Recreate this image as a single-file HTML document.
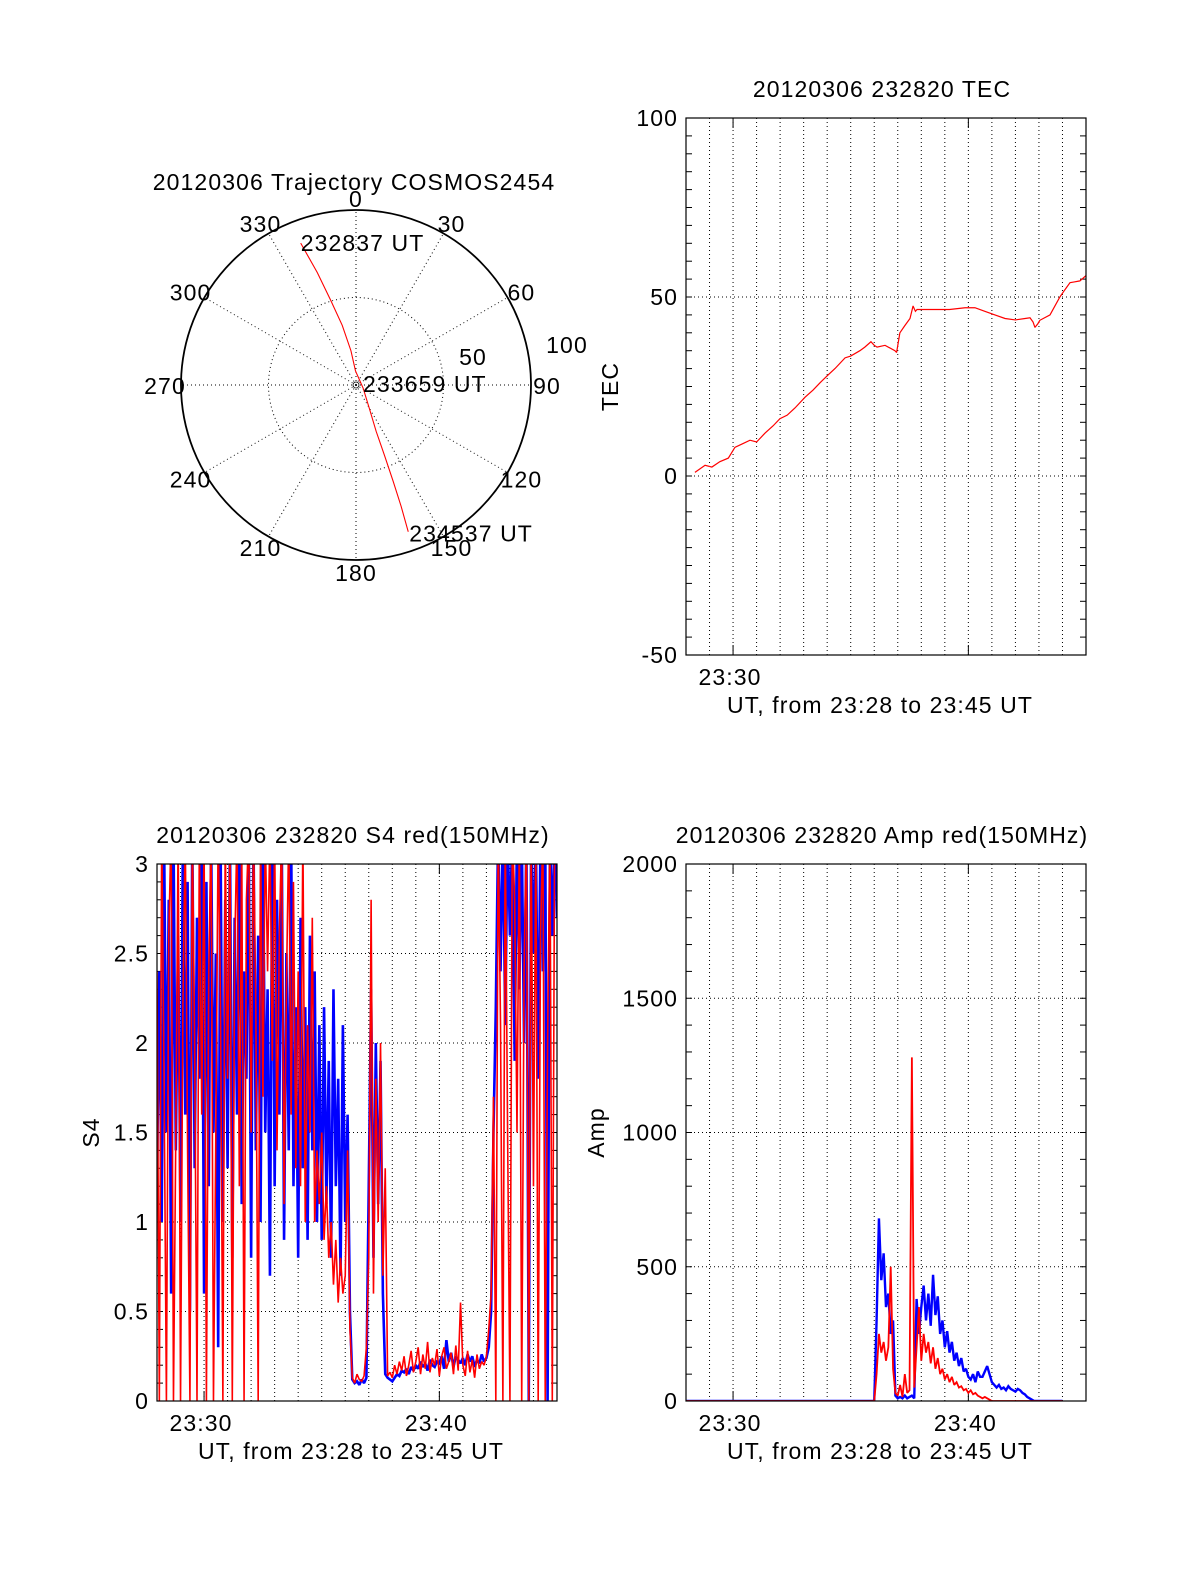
<!DOCTYPE html>
<html><head><meta charset="utf-8"><title>COSMOS2454 scintillation</title>
<style>
html,body{margin:0;padding:0;background:#fff;}
svg{display:block;font-family:"Liberation Sans",Arial,sans-serif;}
text{font-size:23px;fill:#000;letter-spacing:1.1px;}
</style></head>
<body>
<svg id="fig" width="1200" height="1575" viewBox="0 0 1200 1575" xmlns="http://www.w3.org/2000/svg">
<rect width="1200" height="1575" fill="#fff"/>
</svg>
<script>
// ---------- data (time in minutes since 23:28) ----------
const tecTimes = [0.38,0.81,1.1,1.44,1.8,2.08,2.4,2.72,3.0,3.36,3.7,3.99,4.3,4.63,5.06,5.4,5.69,6.0,6.33,6.76,7.0,7.39,7.6,7.86,8.0,8.12,8.46,8.88,8.95,9.09,9.3,9.52,9.65,9.75,9.82,10.58,11.2,11.86,12.28,12.7,13.13,13.56,14.0,14.41,14.62,14.75,14.83,14.95,15.04,15.47,15.89,16.1,16.32,16.5,16.74,17.0];
const tecValues = [1,3,2.5,4,5,8,9,10,9.5,12,14,16,17,19,22,24,26,28,30,33,33.5,35,36,37.5,36.5,36,36.5,35,34.5,40,42,44,47.5,46,46.5,46.5,46.5,47,47,46,45,44,43.6,44,44.2,43,41.5,42.5,43.5,45,50,52,54,54.2,54.5,56];

const s4BlueVals = [
1.2,2.4,1.0,3.2,1.5,2.8,0.6,3.2,1.4,2.6,
1.0,3.2,1.6,2.9,0.5,3.2,1.3,2.7,1.8,3.2,
0.6,2.9,1.2,3.2,1.5,2.5,0.3,3.2,1.0,2.8,
1.3,3.2,0.8,2.7,1.6,3.2,1.1,2.4,1.8,3.2,
0.8,3.2,1.4,2.6,1.0,3.2,1.5,2.3,0.7,3.2,
1.2,2.8,1.6,3.2,0.9,2.5,1.4,3.2,1.2,2.2,
0.8,2.7,1.3,2.2,0.9,2.6,1.4,2.4,1.0,2.1,
0.9,2.2,1.1,1.9,0.8,2.3,1.2,1.8,0.7,2.1,
1.0,1.6,0.5,0.12,0.10,0.11,0.09,0.12,0.10,0.13,
1.2,2.3,0.8,2.0,1.1,1.9,0.6,0.15,0.13,0.12,
0.11,0.13,0.15,0.14,0.17,0.16,0.18,0.15,0.19,0.17,
0.20,0.18,0.22,0.19,0.21,0.17,0.23,0.20,0.19,0.22,
0.21,0.25,0.18,0.34,0.22,0.27,0.19,0.25,0.23,0.21,
0.24,0.20,0.26,0.22,0.25,0.19,0.23,0.21,0.26,0.22,
0.24,0.30,0.5,1.5,2.2,3.2,2.4,3.2,2.1,3.2,
2.6,3.2,1.9,3.2,2.3,3.2,2.0,3.2,0,3.2,
2.5,3.2,1.8,3.2,2.4,3.2,0,3.2,2.6,3.2,
2.7];
const s4RedVals = [
2.4,0,3.2,1.8,0,2.6,3.2,0,1.5,3.2,
0,2.2,3.2,1.4,0,3.2,2.0,0,3.2,1.6,
3.2,0,2.4,3.2,0,1.5,3.2,2.2,0,3.2,
1.8,3.2,0,2.5,3.2,1.2,3.2,0,2.8,3.2,
1.5,3.2,2.2,0,3.2,1.7,3.2,2.4,3.2,1.9,
3.2,1.4,2.6,3.2,1.1,2.3,3.2,1.6,2.9,1.3,
2.4,1.2,3.2,1.0,2.1,1.5,2.7,1.0,1.4,1.1,
1.5,0.9,1.2,0.8,1.0,0.65,0.9,0.55,0.8,0.6,
0.7,1.4,0.4,0.13,0.10,0.15,0.12,0.11,0.14,0.3,
0.8,2.8,0.6,1.8,1.0,2.0,0.7,1.3,0.14,0.16,
0.13,0.20,0.15,0.22,0.17,0.25,0.14,0.20,0.28,0.16,
0.22,0.30,0.15,0.26,0.18,0.33,0.16,0.24,0.20,0.29,
0.14,0.25,0.30,0.18,0.22,0.27,0.15,0.31,0.17,0.55,
0.20,0.14,0.28,0.16,0.23,0.13,0.26,0.18,0.22,0.20,
0.25,0.40,0.6,1.7,0,3.2,2.1,0,3.2,1.5,
0,3.2,2.8,1.5,3.2,0,2.4,3.2,0,3.2,
1.2,3.2,0,2.6,3.2,0,2.0,3.2,0,3.2,
3.2];

const ampBlueVals = [
0,0,0,0,0,0,0,0,0,0, 0,0,0,0,0,0,0,0,0,0, 0,0,0,0,0,0,0,0,0,0, 0,0,0,0,0,0,0,0,0,0,
0,0,0,0,0,0,0,0,0,0, 0,0,0,0,0,0,0,0,0,0, 0,0,0,0,0,0,0,0,0,0, 0,0,0,0,0,0,0,0,0,0,
0,300,680,450,550,350,400,250,300,20,
10,15,10,20,10,15,20,10,380,250,
350,430,300,400,280,470,320,390,250,300,
200,260,180,220,150,180,130,160,110,120,
90,80,100,70,110,90,90,110,130,100,
70,60,50,60,45,50,40,55,45,40,
35,45,40,30,25,15,10,5,0,0,
0,0,0,0,0,0,0,0,0,0, 0];
const ampRedVals = [
0,0,0,0,0,0,0,0,0,0, 0,0,0,0,0,0,0,0,0,0, 0,0,0,0,0,0,0,0,0,0, 0,0,0,0,0,0,0,0,0,0,
0,0,0,0,0,0,0,0,0,0, 0,0,0,0,0,0,0,0,0,0, 0,0,0,0,0,0,0,0,0,0, 0,0,0,0,0,0,0,0,0,0,
0,100,250,180,220,150,200,500,120,30,
20,60,15,100,30,40,1280,50,200,350,
150,250,180,220,140,200,120,160,100,120,
80,100,70,90,60,70,50,55,40,45,
30,40,25,30,20,15,10,15,10,5,
0,0,0,0,0,0,0,0,0,0, 0,0,0,0,0,0,0,0,0,0,
0,0,0,0,0,0,0,0,0,0, 0];
const sampleStepMin = 0.1;

// polar trajectory: azimuth (deg), zenith distance (0..100)
const trajAz = [338.7,341,343.4,347,351.6,358,113,150,156.5,158,158.9,159.6,160.4];
const trajZen = [87,68,50.4,35,19.8,8,4.4,15,28.9,44,59,74,89];
const polarAzLabels = ["0","30","60","90","120","150","180","210","240","270","300","330"];
const tecTicks = [-50,0,50,100];
const s4Ticks = ["0","0.5","1","1.5","2","2.5","3"];
const ampTicks = [0,500,1000,1500,2000];
const timeTickLabels = ["23:30","23:40"];

// ---------- helpers ----------
const NS = "http://www.w3.org/2000/svg";
const svg = document.getElementById("fig");
function mk(tag, attrs, parent) {
  const e = document.createElementNS(NS, tag);
  for (const k in attrs) e.setAttribute(k, attrs[k]);
  (parent || svg).appendChild(e);
  return e;
}
function txt(x, y, s, anchor, parent) {
  const t = mk("text", {x: x, y: y, "text-anchor": anchor || "middle"}, parent);
  t.textContent = s;
  return t;
}

function makePanel(cfg) {
  const g = mk("g", {});
  
  
  const L = cfg.x0, R = cfg.x1, T = cfg.y0, B = cfg.y1;
  const xs = m => L + (m / 17) * (R - L);
  const ys = v => B - (v - cfg.ymin) / (cfg.ymax - cfg.ymin) * (B - T);
  const clipId = cfg.name + "-clip";
  const cp = mk("clipPath", {id: clipId}, g);
  mk("rect", {x: L, y: T, width: R - L, height: B - T}, cp);
  for (let m = 1; m < 17; m++) {
    const l = mk("line", {x1: xs(m), x2: xs(m), y1: T, y2: B, stroke: "#000", "stroke-width": 1, "stroke-dasharray": "1,3"}, g);
    
    
  }
  cfg.majors.forEach(v => {
    if (v > cfg.ymin && v < cfg.ymax) {
      const l = mk("line", {x1: L, x2: R, y1: ys(v), y2: ys(v), stroke: "#000", "stroke-width": 1, "stroke-dasharray": "1,3"}, g);
      
      
    }
  });
  for (let v = cfg.ymin; v <= cfg.ymax + 1e-9; v += cfg.minor) {
    mk("line", {x1: L, x2: L + 6, y1: ys(v), y2: ys(v), stroke: "#000"}, g);
    mk("line", {x1: R - 6, x2: R, y1: ys(v), y2: ys(v), stroke: "#000"}, g);
  }
  [2, 12].forEach(m => {
    mk("line", {x1: xs(m), x2: xs(m), y1: B - 10, y2: B, stroke: "#000"}, g);
    mk("line", {x1: xs(m), x2: xs(m), y1: T, y2: T + 10, stroke: "#000"}, g);
  });
  const sg = mk("g", {"clip-path": "url(#" + clipId + ")"}, g);
  cfg.series.forEach(s => {
    const pts = s.vals.map((v, i) => xs(s.times ? s.times[i] : i * sampleStepMin).toFixed(2) + "," + ys(v).toFixed(2)).join(" ");
    const p = mk("polyline", {points: pts, fill: "none", stroke: s.color, "stroke-width": s.w || 1.2, "stroke-linejoin": "miter", "stroke-miterlimit": 2}, sg);
    
    
  });
  const f = mk("rect", {x: L, y: T, width: R - L, height: B - T, fill: "none", stroke: "#000", "stroke-width": 1.2}, g);
  
  
  cfg.majors.forEach((v, i) => {
    const t = txt(L - 8, ys(v) + 8, cfg.majorLabels[i], "end", g);
    
    
  });
  cfg.xLabels.forEach((s, i) => {
    const t = txt(xs(2 + 10 * i) - 3, B + 30, s, "middle", g);
    
    
  });
  const xt = txt((L + R) / 2 - 6, B + 58, "UT, from 23:28 to 23:45 UT", "middle", g);
  
  
  const tt = txt((L + R) / 2 - 4, T - 21, cfg.title, "middle", g);
  
  
  const yt = mk("text", {x: cfg.ytx, y: (T + B) / 2, "text-anchor": "middle", transform: "rotate(-90 " + cfg.ytx + " " + (T + B) / 2 + ")"}, g);
  yt.textContent = cfg.ytitle;
  
  
}

makePanel({name: "tec-panel", x0: 686, x1: 1086, y0: 118, y1: 655, ymin: -50, ymax: 100, minor: 5,
  majors: tecTicks, majorLabels: tecTicks.map(String), xLabels: [timeTickLabels[0]],
  title: "20120306 232820 TEC", ytitle: "TEC", ytx: 618,
  series: [{name: "tec-line", color: "#ff0000", vals: tecValues, times: tecTimes}]});

makePanel({name: "s4-panel", x0: 157, x1: 557, y0: 864, y1: 1401, ymin: 0, ymax: 3, minor: 0.1,
  majors: s4Ticks.map(Number), majorLabels: s4Ticks, xLabels: timeTickLabels,
  title: "20120306 232820 S4 red(150MHz)", ytitle: "S4", ytx: 99,
  series: [{name: "s4-blue-line", color: "#0000ff", vals: s4BlueVals, w: 2.6},
           {name: "s4-red-line", color: "#ff0000", vals: s4RedVals, w: 1.6}]});

makePanel({name: "amp-panel", x0: 686, x1: 1086, y0: 864, y1: 1401, ymin: 0, ymax: 2000, minor: 100,
  majors: ampTicks, majorLabels: ampTicks.map(String), xLabels: timeTickLabels,
  title: "20120306 232820 Amp red(150MHz)", ytitle: "Amp", ytx: 604,
  series: [{name: "amp-blue-line", color: "#0000ff", vals: ampBlueVals, w: 2.4},
           {name: "amp-red-line", color: "#ff0000", vals: ampRedVals, w: 1.8}]});

(function () {
  const cx = 356, cy = 385, R = 175;
  const g = mk("g", {});
  
  
  const rs = z => z / 100 * R;
  const pt = (az, z) => [cx + rs(z) * Math.sin(az * Math.PI / 180), cy - rs(z) * Math.cos(az * Math.PI / 180)];
  for (let a = 0; a < 360; a += 30) {
    const p = pt(a, 100);
    const l = mk("line", {x1: cx, y1: cy, x2: p[0], y2: p[1], stroke: "#000", "stroke-dasharray": "1,3"}, g);
    
    
  }
  const ic = mk("circle", {cx: cx, cy: cy, r: rs(50), fill: "none", stroke: "#000", "stroke-dasharray": "1,3"}, g);
  
  
  mk("circle", {cx: cx, cy: cy, r: 3, fill: "none", stroke: "#000", "stroke-width": 0.8}, g);
  const oc = mk("circle", {cx: cx, cy: cy, r: R, fill: "none", stroke: "#000", "stroke-width": 1.8}, g);
  
  
  const tp = trajAz.map((a, i) => pt(a, trajZen[i]).map(v => v.toFixed(2)).join(",")).join(" ");
  const tr = mk("polyline", {points: tp, fill: "none", stroke: "#ff0000", "stroke-width": 1.1}, g);
  
  
  polarAzLabels.forEach((s, i) => {
    const a = i * 30 * Math.PI / 180;
    const x = cx + (R + 16) * Math.sin(a), y = cy - (R + 12) * Math.cos(a);
    const t = txt(x, y + 9, s, "middle", g);
    
    
  });
  const r50 = txt(473, 365, "50", "middle", g);
  
  
  const r100 = txt(567, 353, "100", "middle", g);
  
  
  const s = pt(trajAz[0], trajZen[0]);
  const l1 = txt(s[0], s[1] + 8, "232837 UT", "start", g);
  
  
  const l2 = txt(363, 392, "233659 UT", "start", g);
  
  
  const e = pt(trajAz[trajAz.length - 1], trajZen[trajZen.length - 1]);
  const l3 = txt(e[0] + 1, e[1] + 10, "234537 UT", "start", g);
  
  
  const tt = txt(354, 190, "20120306 Trajectory COSMOS2454", "middle", g);
  
  
})();
</script>
</body></html>
